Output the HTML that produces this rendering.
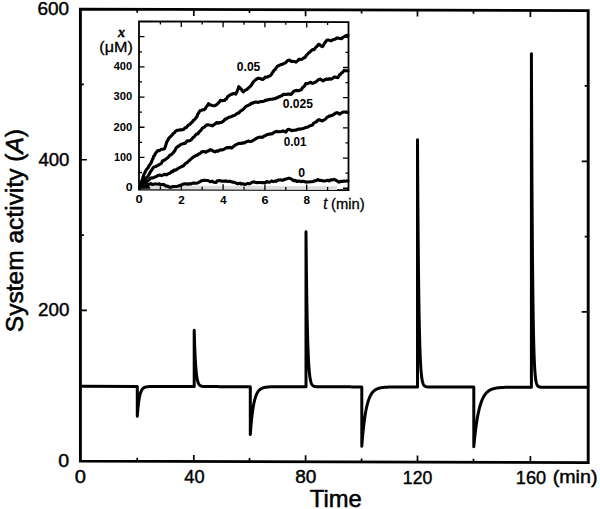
<!DOCTYPE html><html><head><meta charset="utf-8"><style>html,body{margin:0;padding:0;background:#fff;}body{width:600px;height:509px;overflow:hidden;}svg{display:block;}text{font-family:"Liberation Sans",sans-serif;fill:#000;}</style></head><body>
<svg width="600" height="509" viewBox="0 0 600 509">
<path d="M80.4 9.1L588.2 10.62L588.2 462.62L80.4 461.1Z" fill="none" stroke="#000" stroke-width="2.9" stroke-linejoin="miter"/>
<path d="M137.2 461.27V457.77M137.2 9.27V12.77M193.8 461.44V454.94M193.8 9.44V15.94M249.5 461.61V458.11M249.5 9.61V13.11M305.6 461.78V455.28M305.6 9.78V16.28M361.6 461.94V458.44M361.6 9.94V13.44M417.5 462.11V455.61M417.5 10.11V16.61M473.5 462.28V458.78M473.5 10.28V13.78M530.4 462.45V455.95M530.4 10.45V16.95M80.4 385.77H83.9M588.2 387.29H584.7M80.4 310.43H86.9M588.2 311.96H581.7M80.4 235.1H83.9M588.2 236.62H584.7M80.4 159.77H86.9M588.2 161.29H581.7M80.4 84.43H83.9M588.2 85.96H584.7" stroke="#000" stroke-width="1.7" fill="none"/>
<path d="M81.5 386.36L137.3 386.47L137.3 416.27L137.4 414.89L137.5 413.56L137.6 412.3L137.7 411.1L137.8 409.96L137.9 408.87L138 407.82L138.1 406.83L138.2 405.89L138.3 404.98L138.4 404.12L138.5 403.3L138.6 402.52L138.7 401.77L138.8 401.06L138.9 400.38L139 399.74L139.1 399.12L139.2 398.53L139.3 397.97L139.4 397.44L139.5 396.93L139.6 396.44L139.7 395.98L139.8 395.54L139.9 395.12L140 394.71L140.1 394.33L140.2 393.97L140.3 393.62L140.4 393.29L140.5 392.97L140.6 392.67L140.7 392.38L140.8 392.11L140.9 391.84L141 391.6L141.1 391.36L141.2 391.13L141.3 390.91L141.4 390.71L141.5 390.51L141.6 390.32L141.7 390.15L141.8 389.98L141.9 389.81L142 389.66L142.1 389.51L142.2 389.37L142.3 389.24L142.4 389.11L142.5 388.99L142.6 388.87L142.7 388.76L142.8 388.65L142.9 388.55L143 388.46L143.1 388.36L143.2 388.28L143.3 388.19L143.4 388.11L143.65 387.93L143.9 387.77L144.15 387.63L144.4 387.5L144.65 387.38L144.9 387.28L145.15 387.2L145.4 387.12L145.65 387.05L145.9 386.98L146.15 386.93L146.4 386.88L146.65 386.84L146.9 386.8L147.15 386.76L147.4 386.73L147.65 386.71L147.9 386.68L148.15 386.66L148.4 386.64L148.65 386.63L148.9 386.61L149.15 386.6L149.4 386.59L149.65 386.58L149.9 386.57L150.15 386.56L150.4 386.55L150.65 386.55L150.9 386.54L151.15 386.54L151.4 386.53L151.65 386.53L151.9 386.53L152.15 386.52L152.4 386.52L152.9 386.52L153.4 386.52L153.9 386.51L154.4 386.51L154.9 386.51L155.4 386.51L155.9 386.51L156.4 386.51L156.9 386.51L157.4 386.51L157.9 386.51L158.4 386.51L158.9 386.51L159.4 386.51L159.9 386.51L160.4 386.52L160.9 386.52L161.4 386.52L161.9 386.52L162.4 386.52L162.9 386.52L163.4 386.52L163.9 386.52L164.4 386.52L164.9 386.52L165.4 386.52L165.9 386.53L166.4 386.53L166.9 386.53L167.4 386.53L167.9 386.53L168.4 386.53L168.9 386.53L169.4 386.53L169.9 386.53L170.4 386.53L170.9 386.53L171.4 386.54L171.9 386.54L172.4 386.54L172.9 386.54L173.4 386.54L173.9 386.54L174.4 386.54L174.9 386.54L175.4 386.54L175.9 386.54L176.4 386.55L176.9 386.55L177.4 386.55L179.4 386.55L181.4 386.55L183.4 386.56L185.4 386.56L187.4 386.57L189.4 386.57L191.4 386.57L193.4 386.58L194.2 386.58L194.2 330.18L194.3 333.82L194.4 337.22L194.5 340.4L194.6 343.38L194.7 346.17L194.8 348.77L194.9 351.21L195 353.49L195.1 355.63L195.2 357.62L195.3 359.49L195.4 361.24L195.5 362.87L195.6 364.4L195.7 365.83L195.8 367.17L195.9 368.42L196 369.6L196.1 370.69L196.2 371.72L196.3 372.67L196.4 373.57L196.5 374.41L196.6 375.2L196.7 375.93L196.8 376.62L196.9 377.26L197 377.86L197.1 378.43L197.2 378.95L197.3 379.44L197.4 379.9L197.5 380.34L197.6 380.74L197.7 381.12L197.8 381.47L197.9 381.8L198 382.11L198.1 382.4L198.2 382.67L198.3 382.92L198.4 383.16L198.5 383.38L198.6 383.59L198.7 383.78L198.8 383.96L198.9 384.13L199 384.29L199.1 384.44L199.2 384.58L199.3 384.71L199.4 384.83L199.5 384.94L199.6 385.05L199.7 385.15L199.8 385.24L199.9 385.33L200 385.41L200.1 385.49L200.2 385.56L200.3 385.62L200.55 385.77L200.8 385.9L201.05 386.01L201.3 386.1L201.55 386.17L201.8 386.24L202.05 386.29L202.3 386.34L202.55 386.38L202.8 386.41L203.05 386.44L203.3 386.47L203.55 386.49L203.8 386.5L204.05 386.52L204.3 386.53L204.55 386.54L204.8 386.55L205.05 386.56L205.3 386.57L205.55 386.57L205.8 386.58L206.05 386.58L206.3 386.58L206.55 386.59L206.8 386.59L207.05 386.59L207.3 386.59L207.55 386.6L207.8 386.6L208.05 386.6L208.3 386.6L208.55 386.6L208.8 386.6L209.05 386.6L209.3 386.61L209.8 386.61L210.3 386.61L210.8 386.61L211.3 386.61L211.8 386.61L212.3 386.61L212.8 386.61L213.3 386.62L213.8 386.62L214.3 386.62L214.8 386.62L215.3 386.62L215.8 386.62L216.3 386.62L216.8 386.62L217.3 386.62L217.8 386.62L218.3 386.62L218.8 386.63L219.3 386.63L219.8 386.63L220.3 386.63L220.8 386.63L221.3 386.63L221.8 386.63L222.3 386.63L222.8 386.63L223.3 386.63L223.8 386.64L224.3 386.64L224.8 386.64L225.3 386.64L225.8 386.64L226.3 386.64L226.8 386.64L227.3 386.64L227.8 386.64L228.3 386.64L228.8 386.64L229.3 386.65L229.8 386.65L230.3 386.65L230.8 386.65L231.3 386.65L231.8 386.65L232.3 386.65L232.8 386.65L233.3 386.65L233.8 386.65L234.3 386.66L236.3 386.66L238.3 386.66L240.3 386.67L242.3 386.67L244.3 386.67L246.3 386.68L248.3 386.68L250.3 386.69L250.3 434.59L250.4 433.2L250.5 431.85L250.6 430.54L250.7 429.27L250.8 428.04L250.9 426.84L251 425.67L251.1 424.54L251.2 423.45L251.3 422.38L251.4 421.35L251.5 420.34L251.6 419.37L251.7 418.42L251.8 417.5L251.9 416.61L252 415.74L252.1 414.9L252.2 414.08L252.3 413.29L252.4 412.52L252.5 411.77L252.6 411.04L252.7 410.34L252.8 409.65L252.9 408.99L253 408.34L253.1 407.71L253.2 407.1L253.3 406.51L253.4 405.94L253.5 405.38L253.6 404.84L253.7 404.31L253.8 403.8L253.9 403.31L254 402.83L254.1 402.36L254.2 401.9L254.3 401.46L254.4 401.04L254.5 400.62L254.6 400.22L254.7 399.83L254.8 399.44L254.9 399.08L255 398.72L255.1 398.37L255.2 398.03L255.3 397.7L255.4 397.38L255.5 397.07L255.6 396.77L255.7 396.48L255.8 396.2L255.9 395.92L256 395.66L256.1 395.4L256.2 395.14L256.3 394.9L256.4 394.66L256.65 394.1L256.9 393.57L257.15 393.09L257.4 392.63L257.65 392.21L257.9 391.82L258.15 391.46L258.4 391.12L258.65 390.81L258.9 390.52L259.15 390.25L259.4 390L259.65 389.77L259.9 389.55L260.15 389.35L260.4 389.16L260.65 388.99L260.9 388.83L261.15 388.68L261.4 388.54L261.65 388.41L261.9 388.29L262.15 388.18L262.4 388.07L262.65 387.98L262.9 387.89L263.15 387.8L263.4 387.73L263.65 387.66L263.9 387.59L264.15 387.53L264.4 387.47L264.65 387.42L264.9 387.37L265.15 387.32L265.4 387.28L265.9 387.2L266.4 387.14L266.9 387.08L267.4 387.03L267.9 386.99L268.4 386.95L268.9 386.92L269.4 386.9L269.9 386.87L270.4 386.85L270.9 386.84L271.4 386.82L271.9 386.81L272.4 386.8L272.9 386.79L273.4 386.78L273.9 386.78L274.4 386.77L274.9 386.77L275.4 386.76L275.9 386.76L276.4 386.76L276.9 386.76L277.4 386.75L277.9 386.75L278.4 386.75L278.9 386.75L279.4 386.75L279.9 386.75L280.4 386.75L280.9 386.75L281.4 386.75L281.9 386.75L282.4 386.75L282.9 386.75L283.4 386.75L283.9 386.75L284.4 386.75L284.9 386.75L285.4 386.75L285.9 386.75L286.4 386.76L286.9 386.76L287.4 386.76L287.9 386.76L288.4 386.76L288.9 386.76L289.4 386.76L289.9 386.76L290.4 386.76L292.4 386.77L294.4 386.77L296.4 386.77L298.4 386.78L300.4 386.78L302.4 386.78L304.4 386.79L306 386.79L306 231.79L306.1 242.33L306.2 252.16L306.3 261.31L306.4 269.84L306.5 277.8L306.6 285.21L306.7 292.12L306.8 298.55L306.9 304.55L307 310.15L307.1 315.36L307.2 320.22L307.3 324.74L307.4 328.96L307.5 332.9L307.6 336.56L307.7 339.98L307.8 343.16L307.9 346.13L308 348.89L308.1 351.47L308.2 353.87L308.3 356.11L308.4 358.2L308.5 360.14L308.6 361.96L308.7 363.65L308.8 365.22L308.9 366.69L309 368.06L309.1 369.33L309.2 370.52L309.3 371.63L309.4 372.66L309.5 373.62L309.6 374.52L309.7 375.35L309.8 376.13L309.9 376.86L310 377.53L310.1 378.16L310.2 378.75L310.3 379.3L310.4 379.81L310.5 380.28L310.6 380.73L310.7 381.14L310.8 381.52L310.9 381.88L311 382.22L311.1 382.53L311.2 382.82L311.3 383.09L311.4 383.34L311.5 383.58L311.6 383.8L311.7 384L311.8 384.19L311.9 384.37L312 384.54L312.25 384.9L312.5 385.21L312.75 385.47L313 385.68L313.25 385.87L313.5 386.02L313.75 386.15L314 386.25L314.25 386.34L314.5 386.42L314.75 386.48L315 386.53L315.25 386.58L315.5 386.62L315.75 386.65L316 386.67L316.25 386.7L316.5 386.72L316.75 386.73L317 386.75L317.25 386.76L317.5 386.77L317.75 386.77L318 386.78L318.25 386.79L318.5 386.79L318.75 386.8L319 386.8L319.25 386.8L319.5 386.81L319.75 386.81L320 386.81L320.25 386.81L320.5 386.81L320.75 386.81L321 386.82L321.5 386.82L322 386.82L322.5 386.82L323 386.82L323.5 386.82L324 386.83L324.5 386.83L325 386.83L325.5 386.83L326 386.83L326.5 386.83L327 386.83L327.5 386.83L328 386.83L328.5 386.83L329 386.84L329.5 386.84L330 386.84L330.5 386.84L331 386.84L331.5 386.84L332 386.84L332.5 386.84L333 386.84L333.5 386.84L334 386.84L334.5 386.85L335 386.85L335.5 386.85L336 386.85L336.5 386.85L337 386.85L337.5 386.85L338 386.85L338.5 386.85L339 386.85L339.5 386.86L340 386.86L340.5 386.86L341 386.86L341.5 386.86L342 386.86L342.5 386.86L343 386.86L343.5 386.86L344 386.86L344.5 386.86L345 386.87L345.5 386.87L346 386.87L348 386.87L350 386.87L352 386.88L354 386.88L356 386.89L358 386.89L360 386.89L361.8 386.9L361.8 446.2L361.9 444.89L362 443.62L362.1 442.37L362.2 441.15L362.3 439.96L362.4 438.8L362.5 437.66L362.6 436.54L362.7 435.45L362.8 434.38L362.9 433.34L363 432.32L363.1 431.32L363.2 430.35L363.3 429.39L363.4 428.46L363.5 427.54L363.6 426.65L363.7 425.78L363.8 424.92L363.9 424.09L364 423.27L364.1 422.47L364.2 421.69L364.3 420.93L364.4 420.18L364.5 419.45L364.6 418.73L364.7 418.03L364.8 417.35L364.9 416.68L365 416.03L365.1 415.39L365.2 414.76L365.3 414.15L365.4 413.55L365.5 412.96L365.6 412.39L365.7 411.83L365.8 411.28L365.9 410.75L366 410.22L366.1 409.71L366.2 409.21L366.3 408.72L366.4 408.24L366.5 407.77L366.6 407.31L366.7 406.87L366.8 406.43L366.9 406L367 405.58L367.1 405.17L367.2 404.77L367.3 404.38L367.4 403.99L367.5 403.62L367.6 403.25L367.7 402.89L367.8 402.54L368.05 401.7L368.3 400.9L368.55 400.14L368.8 399.43L369.05 398.75L369.3 398.11L369.55 397.51L369.8 396.94L370.05 396.39L370.3 395.88L370.55 395.4L370.8 394.94L371.05 394.51L371.3 394.1L371.55 393.71L371.8 393.34L372.05 393L372.3 392.67L372.55 392.36L372.8 392.06L373.05 391.79L373.3 391.52L373.55 391.28L373.8 391.04L374.05 390.82L374.3 390.61L374.55 390.41L374.8 390.22L375.05 390.04L375.3 389.88L375.55 389.72L375.8 389.57L376.05 389.42L376.3 389.29L376.55 389.16L376.8 389.04L377.3 388.82L377.8 388.62L378.3 388.44L378.8 388.29L379.3 388.14L379.8 388.02L380.3 387.9L380.8 387.8L381.3 387.71L381.8 387.63L382.3 387.56L382.8 387.49L383.3 387.44L383.8 387.39L384.3 387.34L384.8 387.3L385.3 387.26L385.8 387.23L386.3 387.2L386.8 387.17L387.3 387.15L387.8 387.13L388.3 387.11L388.8 387.1L389.3 387.08L389.8 387.07L390.3 387.06L390.8 387.05L391.3 387.04L391.8 387.03L392.3 387.02L392.8 387.02L393.3 387.01L393.8 387.01L394.3 387L394.8 387L395.3 387L395.8 386.99L396.3 386.99L396.8 386.99L397.3 386.99L397.8 386.99L398.3 386.98L398.8 386.98L399.3 386.98L399.8 386.98L400.3 386.98L400.8 386.98L401.3 386.98L401.8 386.98L403.8 386.98L405.8 386.98L407.8 386.99L409.8 386.99L411.8 386.99L413.8 387L415.8 387L417.5 387L417.5 139.7L417.6 158.01L417.7 174.97L417.8 190.67L417.9 205.2L418 218.66L418.1 231.13L418.2 242.67L418.3 253.36L418.4 263.25L418.5 272.41L418.6 280.9L418.7 288.75L418.8 296.03L418.9 302.77L419 309L419.1 314.78L419.2 320.13L419.3 325.08L419.4 329.66L419.5 333.91L419.6 337.84L419.7 341.48L419.8 344.85L419.9 347.97L420 350.86L420.1 353.54L420.2 356.02L420.3 358.31L420.4 360.44L420.5 362.4L420.6 364.23L420.7 365.91L420.8 367.48L420.9 368.92L421 370.26L421.1 371.5L421.2 372.65L421.3 373.71L421.4 374.7L421.5 375.61L421.6 376.45L421.7 377.24L421.8 377.96L421.9 378.63L422 379.25L422.1 379.83L422.2 380.36L422.3 380.85L422.4 381.31L422.5 381.73L422.6 382.12L422.7 382.48L422.8 382.82L422.9 383.13L423 383.42L423.1 383.68L423.2 383.93L423.3 384.16L423.4 384.37L423.5 384.57L423.75 385L424 385.35L424.25 385.64L424.5 385.88L424.75 386.08L425 386.25L425.25 386.38L425.5 386.49L425.75 386.59L426 386.66L426.25 386.72L426.5 386.78L426.75 386.82L427 386.86L427.25 386.88L427.5 386.91L427.75 386.93L428 386.95L428.25 386.96L428.5 386.97L428.75 386.98L429 386.99L429.25 387L429.5 387L429.75 387.01L430 387.01L430.25 387.01L430.5 387.02L430.75 387.02L431 387.02L431.25 387.02L431.5 387.02L431.75 387.03L432 387.03L432.25 387.03L432.5 387.03L433 387.03L433.5 387.03L434 387.03L434.5 387.04L435 387.04L435.5 387.04L436 387.04L436.5 387.04L437 387.04L437.5 387.04L438 387.04L438.5 387.04L439 387.04L439.5 387.05L440 387.05L440.5 387.05L441 387.05L441.5 387.05L442 387.05L442.5 387.05L443 387.05L443.5 387.05L444 387.05L444.5 387.05L445 387.06L445.5 387.06L446 387.06L446.5 387.06L447 387.06L447.5 387.06L448 387.06L448.5 387.06L449 387.06L449.5 387.06L450 387.06L450.5 387.07L451 387.07L451.5 387.07L452 387.07L452.5 387.07L453 387.07L453.5 387.07L454 387.07L454.5 387.07L455 387.07L455.5 387.08L456 387.08L456.5 387.08L457 387.08L457.5 387.08L459.5 387.08L461.5 387.09L463.5 387.09L465.5 387.09L467.5 387.1L469.5 387.1L471.5 387.11L473.5 387.11L473.8 387.11L473.8 446.71L473.9 445.62L474 444.54L474.1 443.49L474.2 442.46L474.3 441.44L474.4 440.44L474.5 439.47L474.6 438.51L474.7 437.56L474.8 436.64L474.9 435.73L475 434.84L475.1 433.96L475.2 433.1L475.3 432.26L475.4 431.43L475.5 430.62L475.6 429.82L475.7 429.04L475.8 428.27L475.9 427.51L476 426.77L476.1 426.04L476.2 425.33L476.3 424.63L476.4 423.94L476.5 423.26L476.6 422.6L476.7 421.95L476.8 421.31L476.9 420.68L477 420.07L477.1 419.46L477.2 418.87L477.3 418.29L477.4 417.72L477.5 417.16L477.6 416.6L477.7 416.06L477.8 415.53L477.9 415.01L478 414.5L478.1 414L478.2 413.5L478.3 413.02L478.4 412.55L478.5 412.08L478.6 411.62L478.7 411.17L478.8 410.73L478.9 410.3L479 409.87L479.1 409.46L479.2 409.05L479.3 408.64L479.4 408.25L479.5 407.86L479.6 407.48L479.7 407.11L479.8 406.74L480.05 405.85L480.3 405.01L480.55 404.2L480.8 403.43L481.05 402.69L481.3 401.99L481.55 401.31L481.8 400.67L482.05 400.06L482.3 399.48L482.55 398.92L482.8 398.38L483.05 397.88L483.3 397.39L483.55 396.93L483.8 396.48L484.05 396.06L484.3 395.66L484.55 395.27L484.8 394.9L485.05 394.55L485.3 394.22L485.55 393.9L485.8 393.59L486.05 393.3L486.3 393.02L486.55 392.76L486.8 392.5L487.05 392.26L487.3 392.03L487.55 391.81L487.8 391.6L488.05 391.4L488.3 391.2L488.55 391.02L488.8 390.84L489.3 390.52L489.8 390.22L490.3 389.95L490.8 389.7L491.3 389.48L491.8 389.27L492.3 389.08L492.8 388.91L493.3 388.76L493.8 388.62L494.3 388.49L494.8 388.37L495.3 388.26L495.8 388.17L496.3 388.08L496.8 388L497.3 387.92L497.8 387.86L498.3 387.79L498.8 387.74L499.3 387.69L499.8 387.64L500.3 387.6L500.8 387.56L501.3 387.53L501.8 387.5L502.3 387.47L502.8 387.44L503.3 387.42L503.8 387.4L504.3 387.38L504.8 387.36L505.3 387.34L505.8 387.33L506.3 387.32L506.8 387.31L507.3 387.29L507.8 387.28L508.3 387.28L508.8 387.27L509.3 387.26L509.8 387.25L510.3 387.25L510.8 387.24L511.3 387.24L511.8 387.23L512.3 387.23L512.8 387.23L513.3 387.22L513.8 387.22L515.8 387.21L517.8 387.21L519.8 387.21L521.8 387.21L523.8 387.21L525.8 387.21L527.8 387.22L529.8 387.22L531.4 387.22L531.4 53.82L531.5 81.59L531.6 107.04L531.7 130.38L531.8 151.77L531.9 171.38L532 189.35L532.1 205.83L532.2 220.94L532.3 234.79L532.4 247.48L532.5 259.12L532.6 269.79L532.7 279.57L532.8 288.54L532.9 296.75L533 304.29L533.1 311.2L533.2 317.53L533.3 323.33L533.4 328.65L533.5 333.53L533.6 338L533.7 342.1L533.8 345.86L533.9 349.31L534 352.46L534.1 355.36L534.2 358.01L534.3 360.45L534.4 362.68L534.5 364.72L534.6 366.6L534.7 368.31L534.8 369.89L534.9 371.33L535 372.66L535.1 373.87L535.2 374.98L535.3 376L535.4 376.94L535.5 377.8L535.6 378.58L535.7 379.3L535.8 379.96L535.9 380.57L536 381.12L536.1 381.63L536.2 382.1L536.3 382.52L536.4 382.92L536.5 383.28L536.6 383.61L536.7 383.91L536.8 384.18L536.9 384.44L537 384.67L537.1 384.88L537.2 385.08L537.3 385.26L537.4 385.42L537.65 385.78L537.9 386.06L538.15 386.29L538.4 386.48L538.65 386.62L538.9 386.74L539.15 386.84L539.4 386.92L539.65 386.98L539.9 387.03L540.15 387.07L540.4 387.1L540.65 387.13L540.9 387.15L541.15 387.17L541.4 387.18L541.65 387.19L541.9 387.2L542.15 387.21L542.4 387.22L542.65 387.22L542.9 387.23L543.15 387.23L543.4 387.23L543.65 387.24L543.9 387.24L544.15 387.24L544.4 387.24L544.65 387.24L544.9 387.24L545.15 387.24L545.4 387.24L545.65 387.25L545.9 387.25L546.15 387.25L546.4 387.25L546.9 387.25L547.4 387.25L547.9 387.25L548.4 387.25L548.9 387.25L549.4 387.25L549.9 387.25L550.4 387.26L550.9 387.26L551.4 387.26L551.9 387.26L552.4 387.26L552.9 387.26L553.4 387.26L553.9 387.26L554.4 387.26L554.9 387.26L555.4 387.27L555.9 387.27L556.4 387.27L556.9 387.27L557.4 387.27L557.9 387.27L558.4 387.27L558.9 387.27L559.4 387.27L559.9 387.27L560.4 387.27L560.9 387.28L561.4 387.28L561.9 387.28L562.4 387.28L562.9 387.28L563.4 387.28L563.9 387.28L564.4 387.28L564.9 387.28L565.4 387.28L565.9 387.29L566.4 387.29L566.9 387.29L567.4 387.29L567.9 387.29L568.4 387.29L568.9 387.29L569.4 387.29L569.9 387.29L570.4 387.29L570.9 387.29L571.4 387.3L573.4 387.3L575.4 387.3L577.4 387.31L579.4 387.31L581.4 387.31L583.4 387.32L585.4 387.32L587.4 387.33L588 387.33" stroke="#000" stroke-width="3.0" fill="none" stroke-linejoin="round" stroke-linecap="butt"/>
<text transform="matrix(0.9967 0.0000 0.0000 0.9929 37.5525 15.4036)" style="font-size:19px;stroke:#000;stroke-width:0.45px;font-family:'Liberation Sans',sans-serif;">600</text>
<text transform="matrix(0.9774 0.0000 0.0000 0.9857 38.4556 165.7071)" style="font-size:19px;stroke:#000;stroke-width:0.45px;font-family:'Liberation Sans',sans-serif;">400</text>
<text transform="matrix(0.9869 0.0000 0.0000 0.9643 38.0598 316.4179)" style="font-size:19px;stroke:#000;stroke-width:0.45px;font-family:'Liberation Sans',sans-serif;">200</text>
<text transform="matrix(1.0316 0.0000 0.0000 0.9929 58.2842 467.4036)" style="font-size:19px;stroke:#000;stroke-width:0.45px;font-family:'Liberation Sans',sans-serif;">0</text>
<text transform="matrix(1.0632 0.0000 0.0000 0.9714 74.7684 483.2143)" style="font-size:19px;stroke:#000;stroke-width:0.45px;font-family:'Liberation Sans',sans-serif;">0</text>
<text transform="matrix(0.9630 0.0000 0.0000 0.9571 184.2593 483.0214)" style="font-size:19px;stroke:#000;stroke-width:0.45px;font-family:'Liberation Sans',sans-serif;">40</text>
<text transform="matrix(1.0000 0.0000 0.0000 0.9714 295.3000 483.1143)" style="font-size:19px;stroke:#000;stroke-width:0.45px;font-family:'Liberation Sans',sans-serif;">80</text>
<text transform="matrix(0.9300 0.0000 0.0000 0.9714 402.8375 483.5143)" style="font-size:19px;stroke:#000;stroke-width:0.45px;font-family:'Liberation Sans',sans-serif;">120</text>
<text transform="matrix(0.9567 0.0000 0.0000 0.9786 515.8042 484.2107)" style="font-size:19px;stroke:#000;stroke-width:0.45px;font-family:'Liberation Sans',sans-serif;">160</text>
<text transform="matrix(1.0352 0.0000 0.0000 1.0082 552.6648 483.2151)" style="font-size:19px;stroke:#000;stroke-width:0.45px;font-family:'Liberation Sans',sans-serif;">(min)</text>
<text transform="matrix(0.9903 0.0000 0.0000 0.9863 309.7524 506.5068)" style="font-size:24px;stroke:#000;stroke-width:0.55px;font-family:'Liberation Sans',sans-serif;">Time</text>
<text transform="matrix(0.0000 -1.0231 1.0261 0.0000 23.1130 332.1673)" style="font-size:24px;stroke:#000;stroke-width:0.55px;font-family:'Liberation Sans',sans-serif;">System activity (<tspan style="font-style:italic">A</tspan>)</text>
<path d="M139 21.4L348.5 22.03L348.5 190.13L139 189.5Z" fill="#fff" stroke="#000" stroke-width="1.8"/>
<path d="M141 185.6L337 186.2L337 189.9L141 189.3Z" fill="#dedede"/>
<path d="M160.4 189.56V186.56M160.4 21.46V24.46M181.3 189.63V184.13M181.3 21.53V27.03M202.2 189.69V186.69M202.2 21.59V24.59M223.1 189.75V184.25M223.1 21.65V27.15M244 189.81V186.81M244 21.71V24.71M264.9 189.88V184.38M264.9 21.78V27.28M285.8 189.94V186.94M285.8 21.84V24.84M306.7 190V184.5M306.7 21.9V27.4M327.6 190.07V187.07M327.6 21.97V24.97M139 187.6H144.5M348.5 188.23H343M139 172.51H142M348.5 173.14H345.5M139 157.42H144.5M348.5 158.05H343M139 142.33H142M348.5 142.96H345.5M139 127.24H144.5M348.5 127.87H343M139 112.15H142M348.5 112.78H345.5M139 97.06H144.5M348.5 97.69H343M139 81.97H142M348.5 82.6H345.5M139 66.88H144.5M348.5 67.51H343M139 51.79H142M348.5 52.42H345.5M139 36.7H144.5M348.5 37.33H343" stroke="#000" stroke-width="1.3" fill="none"/>
<path d="M139.5 188.8L139.5 184L142.3 177.5L144.5 175.5L146.5 179L147.5 183.5L149.5 186.5L150.5 188.8Z" fill="#000"/>
<path d="M139.6 187.5L140.07 185.91L140.55 184.33L141.03 183.56L141.5 181.49L142 180.54L142.5 178.84L143 176.97L143.5 176.01L144 173.94L144.75 173.05L145.5 171.23L146.25 169.88L147 168.91L148 167.99L149 165.75L150 164.47L150.61 163.61L151.23 162.65L151.84 160.86L152.46 159.3L153.07 158.66L153.69 156.2L154.3 155.83L155.18 154L156.05 152.67L156.93 151.49L157.8 150.57L159.55 150.63L161.3 149.32L162.95 149.2L164.6 148.67L165.15 146.85L165.7 145.56L166.25 143.48L166.8 141.97L167.4 140.85L168 140.12L168.6 138.51L169.77 137.18L170.93 136.3L172.1 134.94L173.27 133.46L174.43 132.75L175.6 131.34L177.07 130.33L178.53 130.26L180 129.73L181.8 129.85L183.6 129.38L185.07 127.75L186.53 127.48L188 125.34L189.1 124.75L190.2 124.21L191.3 122.53L192.4 121.99L193.28 120.35L194.16 120L195.04 119.02L195.92 117.69L196.8 116.95L197.7 114.43L198.6 113.03L200 110.81L201.4 110.36L202.8 109.78L204.2 109.81L205.27 108.63L206.35 106.77L207.43 105.7L208.5 103.67L210.5 105.04L212.5 105.58L213.9 105.79L215.3 105.39L216.7 104.54L217.93 103.33L219.17 102.34L220.4 100.23L221.8 100.82L223.2 100.53L224.6 100.54L225.57 99.24L226.53 98.86L227.5 96.86L228.9 95.81L230.3 94.8L231.7 94.2L233.75 93.47L235.8 94.14L236.39 92.8L236.98 91.74L237.57 90.2L238.16 88.8L238.75 86.63L239.89 87.89L241.03 88.91L242.16 90.62L243.3 91.8L245 90.21L246.7 89.61L247.8 88.61L248.9 87.55L250 86.78L251.25 85.26L252.5 83.22L253.75 81.4L255 80.4L256.17 79.38L257.33 78.65L258.5 78.14L259.83 78.43L261.17 78.82L262.5 79.54L263.9 78.74L265.3 77.13L266.7 77.28L268.6 76.34L270.5 75.65L271.43 74.39L272.37 72.74L273.3 71.58L274.35 69.97L275.4 69.36L276.45 67.42L277.5 66.18L279.15 65.5L280.8 64.59L282.2 64.39L283.6 63.63L285 63.15L286.1 62.21L287.2 61.04L288.3 60.24L289.7 60.11L291.1 61.42L292.5 61.39L294.15 61.45L295.8 62.2L296.93 61.35L298.07 60.4L299.2 59.15L300.65 59.49L302.1 59.14L303.55 57.98L305 57.48L306 55.84L307 54.7L308 53.83L309 52.58L310 52.09L311.4 50.46L312.8 49.46L314.2 49.74L315.2 48.23L316.2 46.78L317.2 46.25L318.2 44.63L319.2 44.23L320.85 45.77L322.5 46.64L323.5 45.12L324.5 43.27L325.5 42.08L326.5 40.52L327.5 39.93L328.9 40.04L330.3 40.73L331.7 40.6L332.95 39.64L334.2 39.52L335.45 38.91L336.7 37.92L338.37 38.13L340.03 38.42L341.7 38.59L343.07 37.14L344.43 36.65L345.8 35.63L348 35.4" stroke="#000" stroke-width="3.1" fill="none" stroke-linejoin="round" stroke-linecap="round"/>
<path d="M139.6 187.5L140.4 185.6L141.2 184.27L142 183.24L143 181.88L144 181.06L145 180.05L146 178.1L147 177.36L148 176.09L149 174.65L150 172.54L150.9 171.06L151.8 169.77L152.7 168.44L153.6 167.15L155 166.82L156.4 166.31L157.8 165.41L159.2 164.38L160.6 163.98L161.57 162.99L162.53 160.97L163.5 160.49L164.9 159.86L166.3 158.77L167.7 157.8L168.85 156.47L170 155.11L171.25 154.85L172.5 153.3L173.65 152.21L174.8 150.77L175.67 148.78L176.53 147.48L177.4 146.84L179.15 145.82L180.9 144.4L182.25 143.9L183.6 143.48L184.77 143.49L185.93 142.47L187.1 140.78L188.57 140.93L190.03 140.44L191.5 139.39L192.85 137.82L194.2 136.86L195.37 135.22L196.53 133.95L197.7 133.97L198.85 132.38L200 131.03L201.1 130.22L202.2 128.32L203.3 127.55L204.7 126.79L206.1 125.35L207.5 124.7L209.17 125.02L210.83 125.22L212.5 125.9L213.9 124.54L215.3 123.77L216.7 122.46L218.37 123.26L220.03 122.46L221.7 122.45L222.8 121.5L223.9 120.79L225 119.1L226.4 119L227.8 117.8L229.2 117.14L231.25 116.7L233.3 115.67L234.7 115.34L236.1 114.2L237.5 113.15L238.9 112.99L240.3 111.12L241.7 110.37L243.07 109.44L244.43 108L245.8 106.49L247.2 105.89L248.6 105.1L250 104.54L251.4 103.16L252.8 103.14L254.2 102.2L256.25 102.03L258.3 102.43L259.7 101.83L261.1 101.61L262.5 101.56L263.9 101.33L265.3 100.35L266.7 100.14L268.75 99.61L270.8 99.21L272.2 99.28L273.6 98.84L275 98.79L276.4 97.89L277.8 97.61L279.2 96.49L280.57 96.15L281.93 95.68L283.3 94.31L284.7 94.39L286.1 94.57L287.5 94.16L289.15 93.94L290.8 94.55L291.93 93.68L293.07 91.99L294.2 90.94L296.1 90.36L298 90.7L299.75 90.19L301.5 89.68L302.57 87.49L303.65 86.86L304.73 85.49L305.8 83.57L307.55 83.61L309.3 82.86L310.73 82.23L312.17 83.38L313.6 82.98L314.77 82.22L315.93 81.95L317.1 80.9L318.8 79.44L320.5 79.12L321.8 80.12L323.1 80.81L324.85 79.73L326.6 78.98L328.03 79.47L329.47 78.62L330.9 79.26L332.65 78.28L334.4 76.92L336.15 77.3L337.9 77.65L338.75 76.31L339.6 74.58L340.45 74.48L341.3 73.05L342.6 72.42L343.9 70.53L345.95 70.72L348 71" stroke="#000" stroke-width="3.1" fill="none" stroke-linejoin="round" stroke-linecap="round"/>
<path d="M139.6 187.5L140.8 185.7L142 185.33L143.33 183.56L144.67 182.22L146 181.41L147.33 181.16L148.67 180.22L150 178.71L151.5 177.83L153 178L154.7 176.98L156.4 176.54L158.2 175.41L160 174.97L161.5 175.58L163 175.11L164.65 174.24L166.3 174.83L168.15 173.81L170 173.36L171.33 171.67L172.67 171.76L174 169.98L175.8 170.09L177.6 168.74L180 167.31L181.65 166.56L183.3 166.01L184.53 164.32L185.77 163.26L187 162.83L188.2 161.49L189.4 160.33L190.6 159.39L192.05 158.01L193.5 156.94L194.85 156.22L196.2 155.37L197.47 155.21L198.73 153.95L200 153.5L201.25 152.24L202.5 151.57L204.15 151.6L205.8 152.3L207.2 151.05L208.6 150.95L210 149.76L211.65 150.13L213.3 151.27L215 151.82L216.7 150.83L218.07 151.15L219.43 150.15L220.8 149.69L222.5 149.88L224.2 149.12L225.85 148.23L227.5 147.43L228.9 147.91L230.3 147.28L231.7 148L233.35 146.6L235 145.26L236.65 144.34L238.3 143.62L240 143.27L241.7 143.36L243.07 142.75L244.43 143.02L245.8 141.91L247.2 141.46L248.6 141.03L250 141.61L251.4 141.24L252.8 140.6L254.2 139.74L255.57 138.86L256.93 138.09L258.3 137.45L260.4 137.09L262.5 137.43L263.9 136.12L265.3 135.85L266.7 134.77L268.75 134.26L270.8 133.89L272.2 134.06L273.6 132.57L275 131.93L276.4 131.37L277.8 131.69L279.2 131.67L281.25 131.48L283.3 130.89L285.8 132.11L287.05 130.26L288.3 129.32L290 129.71L291.7 130.68L293.35 130.25L295 130.23L296.65 129.87L298.3 129.08L300.3 129.1L302.3 128.64L303.77 128.33L305.23 127.66L306.7 127.16L308.13 126.92L309.57 125.9L311 125.39L312.43 125.02L313.87 122.85L315.3 122.37L316.77 121.41L318.23 119.82L319.7 119.9L321 120.62L322.3 120.95L324 119.98L325.7 118.97L326.87 117.3L328.03 116.9L329.2 116.01L330.63 115.84L332.07 115.23L333.5 114.69L335.25 113.3L337 112.57L338.3 113.22L339.6 114.13L341.35 112.93L343.1 112.04L344.73 111.99L346.37 112.1L348 112.1" stroke="#000" stroke-width="3.1" fill="none" stroke-linejoin="round" stroke-linecap="round"/>
<path d="M139.6 187.5L140.8 186.28L142 186.4L143.55 185.37L145.1 184.75L146.5 184.65L147.9 184.62L149.3 184.29L150.73 183.57L152.17 184.39L153.6 184.2L155 183.94L156.4 184.01L157.8 184.19L159.23 183.73L160.65 184.78L162.07 184.45L163.5 184.49L164.9 185.17L166.3 186.18L167.7 186L169.1 187.09L170.82 187.3L172.55 186.64L174.28 186.43L176 186.47L177.5 186.25L179 185.87L180.5 185.22L182 184.77L183.5 183.94L185 183.88L186.5 183.85L188 184.29L189.6 183.67L191.2 183.88L192.8 183.11L194.4 183.07L196 183.22L197.33 183.04L198.67 182.4L200 181.71L201.33 180.82L202.67 180.65L204 180.16L206 180.56L208 180.54L210 181.72L212 181.14L214 182.32L216 182.52L217.33 180.82L218.67 180.75L220 180.58L221.33 181.2L222.67 181.01L224 181.22L226 180.9L228 181.53L230 181.15L232 182.1L234 182.07L236 183.03L238 183.84L240 183.16L241.5 184.08L243 183.81L244.5 184.36L246 184.24L247.6 183.36L249.2 183.84L250.8 183.02L252.4 182.15L254 181.8L255.6 182.51L257.2 182.58L258.8 182.52L260.4 182.45L262 182.81L263.6 182.5L265.2 182.85L266.8 181.56L268.4 182.18L270 182.01L271.6 180.9L273.2 181.63L274.8 181.14L276.4 181.12L278 180.15L279.5 180.05L281 179.87L282.5 180.4L284 179.71L285.67 179.03L287.33 178.71L289 178.13L290.5 178.66L292 179.52L293.6 180.72L295.2 180.38L296.8 181.48L298.4 180.98L300 181.32L301.43 181.61L302.86 181.23L304.29 181.45L305.71 182.15L307.14 182.06L308.57 181.97L310 181.76L311.6 181.78L313.2 181.49L314.8 180.7L316.4 180.58L318 179.46L319.6 180.48L321.2 180.34L322.8 180.9L324.4 180.97L326 180.74L327.6 180.18L329.2 180.95L330.8 179.71L332.4 179.85L334 179.41L335.67 180.02L337.33 181.22L339 182.17L340.5 181.21L342 181.59L343.5 181.06L345 181.27L346.5 180.97L348 181" stroke="#000" stroke-width="3.1" fill="none" stroke-linejoin="round" stroke-linecap="round"/>
<text transform="matrix(1.0769 0.0000 0.0000 1.1680 118.0692 37.2080)" style="font-size:13px;font-style:italic;font-weight:bold;stroke:#000;stroke-width:0.35px;font-family:'Liberation Serif',serif;">x</text>
<text transform="matrix(1.1527 0.0000 0.0000 1.0491 99.3355 52.2528)" style="font-size:14px;stroke:#000;stroke-width:0.3px;font-family:'Liberation Sans',sans-serif;">(μM)</text>
<text transform="matrix(1.0000 0.0000 0.0000 1.0323 113.7500 69.8000)" style="font-size:11px;font-weight:bold;font-family:'Liberation Sans',sans-serif;">400</text>
<text transform="matrix(1.0141 0.0000 0.0000 1.0000 113.4965 99.7500)" style="font-size:11px;font-weight:bold;font-family:'Liberation Sans',sans-serif;">300</text>
<text transform="matrix(1.0143 0.0000 0.0000 1.0581 113.4929 130.5000)" style="font-size:11px;font-weight:bold;font-family:'Liberation Sans',sans-serif;">200</text>
<text transform="matrix(0.9855 0.0000 0.0000 1.0323 114.0109 161.0000)" style="font-size:11px;font-weight:bold;font-family:'Liberation Sans',sans-serif;">100</text>
<text transform="matrix(1.1238 0.0000 0.0000 1.0323 125.6381 191.0000)" style="font-size:11px;font-weight:bold;font-family:'Liberation Sans',sans-serif;">0</text>
<text transform="matrix(1.1810 0.0000 0.0000 0.9935 135.6095 203.0000)" style="font-size:11px;font-weight:bold;font-family:'Liberation Sans',sans-serif;">0</text>
<text transform="matrix(1.0667 0.0000 0.0000 0.9677 178.1667 203.5000)" style="font-size:11px;font-weight:bold;font-family:'Liberation Sans',sans-serif;">2</text>
<text transform="matrix(1.0261 0.0000 0.0000 1.0000 220.1435 203.5000)" style="font-size:11px;font-weight:bold;font-family:'Liberation Sans',sans-serif;">4</text>
<text transform="matrix(1.1429 0.0000 0.0000 1.0065 261.4286 203.8000)" style="font-size:11px;font-weight:bold;font-family:'Liberation Sans',sans-serif;">6</text>
<text transform="matrix(1.0727 0.0000 0.0000 1.0065 303.5318 203.8000)" style="font-size:11px;font-weight:bold;font-family:'Liberation Sans',sans-serif;">8</text>
<text transform="matrix(1.0933 0.0000 0.0000 1.2848 323.3533 208.6788)" style="font-size:14px;font-style:italic;stroke:#000;stroke-width:0.3px;font-family:'Liberation Serif',serif;">t</text>
<text transform="matrix(1.0557 0.0000 0.0000 1.0717 331.1082 208.5849)" style="font-size:14px;stroke:#000;stroke-width:0.3px;font-family:'Liberation Sans',sans-serif;">(min)</text>
<text transform="matrix(1.0089 0.0000 0.0000 1.1030 236.7956 70.6000)" style="font-size:12px;font-weight:bold;font-family:'Liberation Sans',sans-serif;">0.05</text>
<text transform="matrix(1.0051 0.0000 0.0000 1.1030 282.7974 107.5000)" style="font-size:12px;font-weight:bold;font-family:'Liberation Sans',sans-serif;">0.025</text>
<text transform="matrix(0.9733 0.0000 0.0000 1.0909 283.7133 145.6000)" style="font-size:12px;font-weight:bold;font-family:'Liberation Sans',sans-serif;">0.01</text>
<text transform="matrix(1.0174 0.0000 0.0000 1.0788 298.2413 177.1000)" style="font-size:12px;font-weight:bold;font-family:'Liberation Sans',sans-serif;">0</text>
</svg></body></html>
